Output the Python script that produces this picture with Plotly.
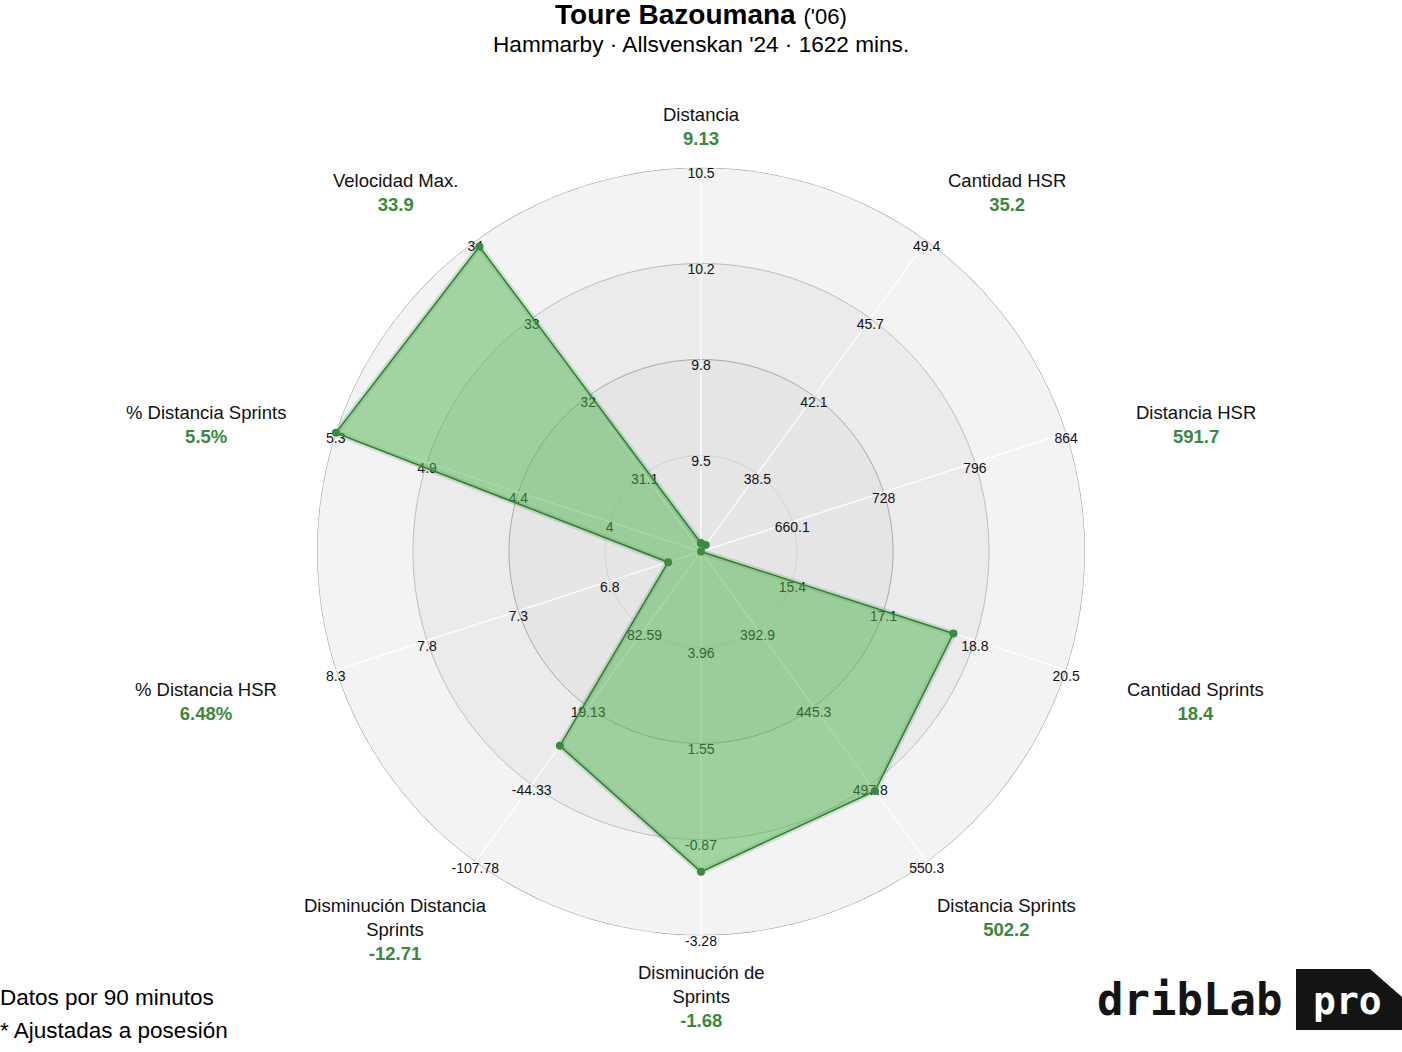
import numpy as np
import plotly.graph_objects as go

# ---------------- data ----------------
categories = ["Distancia", "Cantidad HSR", "Distancia HSR", "Cantidad Sprints",
              "Distancia Sprints", "Disminución de<br>Sprints",
              "Disminución Distancia<br>Sprints", "% Distancia HSR",
              "% Distancia Sprints", "Velocidad Max."]
values = [9.13, 35.2, 591.7, 18.4, 502.2, -1.68, -12.71, 6.48, 5.5, 33.9]
value_labels = ["9.13", "35.2", "591.7", "18.4", "502.2", "-1.68", "-12.71",
                "6.48%", "5.5%", "33.9"]
# value at the centre and at the outer ring for every axis
axis_center = [9.10, 34.9, 592.1, 13.7, 340.4, 6.37, 146.05, 6.3, 3.57, 30.1]
axis_outer = [10.5, 49.4, 864.0, 20.5, 550.3, -3.28, -107.78, 8.3, 5.3, 33.97]
tick_labels = [
    ["9.5", "9.8", "10.2", "10.5"],
    ["38.5", "42.1", "45.7", "49.4"],
    ["660.1", "728", "796", "864"],
    ["15.4", "17.1", "18.8", "20.5"],
    ["392.9", "445.3", "497.8", "550.3"],
    ["3.96", "1.55", "-0.87", "-3.28"],
    ["82.59", "19.13", "-44.33", "-107.78"],
    ["6.8", "7.3", "7.8", "8.3"],
    ["4", "4.4", "4.9", "5.3"],
    ["31.1", "32", "33", "34"],
]
title_name = "Toure Bazoumana"
title_year = "('06)"
subtitle = "Hammarby · Allsvenskan '24 · 1622 mins."
footer = ["Datos por 90 minutos", "* Ajustadas a posesión"]

# ---------------- layout constants ----------------
W, H = 1402, 1052
CX, CY, R = 701, 551.5, 384          # pixel centre / radius of the radar
FONT = "Liberation Sans, Arial, sans-serif"
DARK_GREEN = "#2e7d32"
VALUE_GREEN = "#3a8a3e"

n = len(categories)
thetas = [i * 360 / n for i in range(n)]
NR = 4  # number of rings

def norm(v, lo, hi):
    t = (v - lo) / (hi - lo) * NR
    return float(min(max(t, 0.0), NR))

r_vals = [norm(v, lo, hi) for v, lo, hi in zip(values, axis_center, axis_outer)]

fig = go.Figure()
circle = np.linspace(0, 360, 361)

# background bands (largest first)
for rr, col in [(4, "#f3f3f3"), (3, "#ebebeb"), (2, "#e5e5e5")]:
    fig.add_trace(go.Scatterpolar(r=[rr] * len(circle), theta=circle, mode="lines",
                                  fill="toself", fillcolor=col, line=dict(width=0),
                                  hoverinfo="skip", showlegend=False))
# ring lines
for rr, col, w in [(1, "#d2d2d2", 1), (2, "#a8a8a8", 1), (3, "#bcbcbc", 1), (4, "#a0a0a0", 1.2)]:
    fig.add_trace(go.Scatterpolar(r=[rr] * len(circle), theta=circle, mode="lines",
                                  line=dict(color=col, width=w),
                                  hoverinfo="skip", showlegend=False))
# spokes
sr, st = [], []
for t in thetas:
    sr += [0, NR, None]
    st += [t, t, None]
fig.add_trace(go.Scatterpolar(r=sr, theta=st, mode="lines",
                              line=dict(color="white", width=1.2),
                              hoverinfo="skip", showlegend=False))
# tick labels (drawn below the filled polygon)
tr, tt, tx = [], [], []
for t, labs in zip(thetas, tick_labels):
    for k, lab in enumerate(labs):
        tr.append(k + 1)
        tt.append(t)
        tx.append(lab)
fig.add_trace(go.Scatterpolar(r=tr, theta=tt, text=tx, mode="text",
                              textposition="bottom center",
                              textfont=dict(family=FONT, size=14, color="#111111"),
                              hoverinfo="skip", showlegend=False, cliponaxis=False))

rc = r_vals + [r_vals[0]]
tc = thetas + [thetas[0]]
# soft glow
fig.add_trace(go.Scatterpolar(r=rc, theta=tc, mode="lines",
                              line=dict(color="rgba(46,125,50,0.18)", width=6),
                              hoverinfo="skip", showlegend=False))
# the player polygon
fig.add_trace(go.Scatterpolar(r=rc, theta=tc, mode="lines+markers",
                              fill="toself", fillcolor="rgba(82,182,80,0.5)",
                              line=dict(color=DARK_GREEN, width=1.5),
                              marker=dict(color="#3b8a3f", size=8),
                              hoverinfo="skip", showlegend=False, cliponaxis=False))

# ---------------- annotations ----------------
ann = []
for t, cat, vl in zip(thetas, categories, value_labels):
    a = np.deg2rad(t)
    c = np.cos(a)
    px = CX + 520 * np.sin(a)
    if abs(c) > 0.5:
        y_off = 350.8 * c + 53.7 * np.sign(c) - 3.5
        yanch = "bottom" if c > 0 else "top"
    else:
        y_off = 446.6 * c - 11.5
        yanch = "middle"
    ann.append(dict(x=px / W, y=((H - CY) + y_off) / H, xref="paper", yref="paper",
                    xanchor="center", yanchor=yanch, showarrow=False,
                    text=f"{cat}<br><b><span style='color:{VALUE_GREEN}'>{vl}</span></b>",
                    font=dict(family=FONT, size=18.5, color="#111111"), align="center"))

ann.append(dict(x=0.5, y=1 - 15 / H, xref="paper", yref="paper", xanchor="center",
                yanchor="middle", showarrow=False,
                text=f"<b>{title_name}</b> <span style='font-size:22px'>{title_year}</span>",
                font=dict(family=FONT, size=28, color="#000000")))
ann.append(dict(x=0.5, y=1 - 44 / H, xref="paper", yref="paper", xanchor="center",
                yanchor="middle", showarrow=False, text=subtitle,
                font=dict(family=FONT, size=22.6, color="#000000")))
for i, line in enumerate(footer):
    ann.append(dict(x=0, y=1 - (997 + 33 * i) / H, xref="paper", yref="paper",
                    xanchor="left", yanchor="middle", showarrow=False, text=line,
                    xshift=-2,
                    font=dict(family=FONT, size=22.5, color="#000000")))

# logo
ann.append(dict(x=1284 / W, y=1 - 999 / H, xref="paper", yref="paper", xanchor="right",
                yanchor="middle", showarrow=False, text="<b>dribLab</b>",
                font=dict(family="DejaVu Sans Mono, monospace", size=44, color="#141414")))
ann.append(dict(x=1347 / W, y=1 - 1001 / H, xref="paper", yref="paper", xanchor="center",
                yanchor="middle", showarrow=False, text="<b>pro</b>",
                font=dict(family="DejaVu Sans Mono, monospace", size=38, color="#ffffff")))

def P(x, y):
    return f"{x / W:.5f},{1 - y / H:.5f}"

logo_box = ("M " + P(1296, 969) + " L " + P(1370, 969) + " L " + P(1402, 997) +
            " L " + P(1402, 1030) + " L " + P(1296, 1030) + " Z")

fig.update_layout(
    width=W, height=H,
    margin=dict(l=0, r=0, t=0, b=0),
    paper_bgcolor="white", plot_bgcolor="white",
    showlegend=False,
    font=dict(family=FONT),
    polar=dict(
        domain=dict(x=[(CX - R) / W, (CX + R) / W],
                    y=[(H - CY - R) / H, (H - CY + R) / H]),
        bgcolor="rgba(0,0,0,0)",
        radialaxis=dict(range=[0, NR], visible=False, showgrid=False),
        angularaxis=dict(rotation=90, direction="clockwise", showgrid=False,
                         showticklabels=False, showline=False, ticks=""),
    ),
    annotations=ann,
    shapes=[dict(type="path", path=logo_box, xref="paper", yref="paper",
                 fillcolor="#141414", line=dict(width=0), layer="below")],
)

fig.write_html("out.html", config={"displayModeBar": False},
               post_script="document.body.style.margin='0px';document.body.style.overflow='hidden';")
